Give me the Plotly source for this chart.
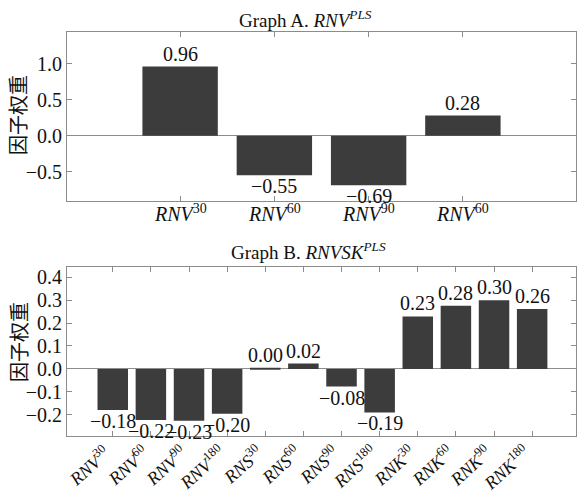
import plotly.graph_objects as go

# ---- data ----
labels_a = ["RNV|30", "RNV|60", "RNV|90", "RNV|60"]
values_a = [0.96, -0.55, -0.69, 0.28]

labels_b = ["RNV|30", "RNV|60", "RNV|90", "RNV|180",
            "RNS|30", "RNS|60", "RNS|90", "RNS|180",
            "RNK|30", "RNK|60", "RNK|90", "RNK|180"]
values_b = [-0.179, -0.223, -0.226, -0.196,
            0.004, 0.023, -0.077, -0.190,
            0.229, 0.276, 0.300, 0.261]

title_a = "Graph A. <i>RNV</i><sup><i>PLS</i></sup>"
title_b = "Graph B. <i>RNVSK</i><sup><i>PLS</i></sup>"
ytitle = "因子权重"
ticks_a = [-0.5, 0.0, 0.5, 1.0]
ticks_b = [-0.2, -0.1, 0.0, 0.1, 0.2, 0.3, 0.4]

# ---- style ----
FONT = "Liberation Serif"
CJK = "Noto Sans CJK SC"
BAR = "#3c3c3c"
FRAME = "#8c8c8c"
TXT = "#111111"
H = 493.0


def fmt_label(s):
    base, sup = s.split("|")
    return f"<i>{base}</i><sup>{sup}</sup>"


def fmt_val(v):
    return f"{v:.2f}".replace("-", "\u2212")


def py(px):
    return 1 - px / H


fig = go.Figure()

for vals, xa, ya in [(values_a, "x", "y"), (values_b, "x2", "y2")]:
    fig.add_trace(go.Bar(
        x=list(range(len(vals))), y=vals, width=0.8,
        marker=dict(color=BAR, line=dict(width=0)),
        xaxis=xa, yaxis=ya, showlegend=False, hoverinfo="x+y",
    ))
    # value labels
    for i, v in enumerate(vals):
        fig.add_annotation(
            x=i, y=v, xref=xa, yref=ya, text=fmt_val(v), showarrow=False,
            xanchor="center", yanchor="bottom" if v >= 0 else "top",
            yshift=0 if v >= 0 else 2,
            font=dict(size=20, color=TXT, family=FONT),
        )

axis_common = dict(
    showline=True, linecolor=FRAME, linewidth=1, mirror="ticks",
    ticks="inside", ticklen=5, tickcolor=FRAME, tickwidth=1,
    showgrid=False, automargin=False,
    tickfont=dict(size=20, color=TXT, family=FONT),
)

fig.update_layout(
    width=577, height=493,
    margin=dict(l=67, r=1, t=0, b=0),
    paper_bgcolor="white", plot_bgcolor="white",
    font=dict(family=FONT, color=TXT),
    bargap=0.2,
    xaxis=dict(axis_common, domain=[0, 1], anchor="y",
               range=[-1.2, len(values_a) - 1 + 1.2],
               tickvals=list(range(len(values_a))), showticklabels=False,
               zeroline=False),
    yaxis=dict(axis_common, domain=[py(200.7), py(32.3)], anchor="x",
               range=[-0.903, 1.436], tickvals=ticks_a, tickformat=".1f",
               zeroline=True, zerolinecolor=FRAME, zerolinewidth=1),
    xaxis2=dict(axis_common, domain=[0, 1], anchor="y2",
                range=[-1.2, len(values_b) - 1 + 1.15],
                tickvals=list(range(len(values_b))), showticklabels=False,
                zeroline=False),
    yaxis2=dict(axis_common, domain=[py(436.0), py(266.7)], anchor="x2",
                range=[-0.293, 0.446], tickvals=ticks_b, tickformat=".1f",
                zeroline=True, zerolinecolor=FRAME, zerolinewidth=1),
)

# category labels (top chart: horizontal)
for i, s in enumerate(labels_a):
    fig.add_annotation(x=i, y=py(227), xref="x", yref="paper", text=fmt_label(s),
                       showarrow=False, xanchor="center", yanchor="bottom",
                       font=dict(size=20, color=TXT, family=FONT))

# category labels (bottom chart: rotated)
for i, s in enumerate(labels_b):
    fig.add_annotation(x=i, y=py(438), xref="x2", yref="paper", text=fmt_label(s),
                       showarrow=False, xanchor="right", yanchor="top", xshift=5,
                       textangle=-42,
                       font=dict(size=18, color=TXT, family=FONT))

annos = [
    dict(text=title_a, x=(305.5 - 67) / 509.0, y=py(19)),
    dict(text=title_b, x=(308.5 - 67) / 509.0, y=py(251)),
]
for a in annos:
    fig.add_annotation(xref="paper", yref="paper", xanchor="center", yanchor="middle",
                       showarrow=False, font=dict(size=19, color=TXT, family=FONT), **a)

for yc in [115, 342]:
    fig.add_annotation(text=ytitle, xref="paper", yref="paper",
                       x=(18 - 67) / 509.0, y=py(yc),
                       xanchor="center", yanchor="middle", textangle=-90,
                       showarrow=False, font=dict(size=20, color=TXT, family=CJK))

fig.write_html(
    "out.html",
    config={"displayModeBar": False},
    post_script="document.body.style.margin='0';document.body.style.overflow='hidden';",
)
